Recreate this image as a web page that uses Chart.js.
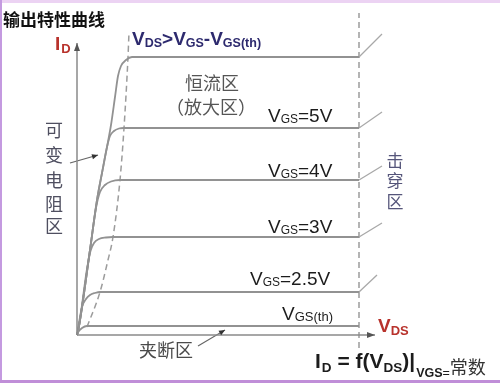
<!DOCTYPE html>
<html><head><meta charset="utf-8">
<script src="https://cdn.jsdelivr.net/npm/chart.js@4"></script>
<style>html,body{margin:0;padding:0;background:#fff}canvas{display:block}</style>
</head><body>
<canvas id="c" width="500" height="383"></canvas>
<script>
// ---- data (V_DS, I_D) in arbitrary units ----
const curveTop  = [[0,0],[0.15,0.6],[1.3,8.5],[2.0,13.5],[2.5,16.2],[3.0,18.8],[3.4,21.0],[3.8,23.8],[4.1,25.9],[4.4,26.9],[4.9,27.5],[5.5,27.8],[28.2,27.8]];
const curve5V   = [[0,0],[0.15,0.6],[1.3,8.5],[2.0,13.5],[2.5,16.2],[3.0,18.8],[3.3,19.9],[3.7,20.4],[4.2,20.65],[4.7,20.7],[28.2,20.7]];
const curve4V   = [[0,0],[0.15,0.6],[1.3,8.5],[1.9,12.7],[2.3,14.3],[2.8,15.0],[3.4,15.35],[4.3,15.5],[28.2,15.5]];
const curve3V   = [[0,0],[0.15,0.6],[1.0,6.6],[1.35,8.4],[1.7,9.2],[2.2,9.6],[2.9,9.75],[3.6,9.8],[28.2,9.8]];
const curve25V  = [[0,0],[0.25,1.5],[0.5,2.8],[0.9,3.6],[1.3,4.0],[1.8,4.2],[2.3,4.3],[28.2,4.3]];
const curveVth  = [[0,0],[0.15,0.35],[0.5,0.7],[1.0,0.9],[28.2,0.9]];
const breakdownTop = [[28.2,27.8],[30.5,30.1]];
const breakdown5V  = [[28.2,20.7],[30.5,22.3]];
const breakdown4V  = [[28.2,15.5],[30.5,16.9]];
const breakdown3V  = [[28.2,9.8],[30.5,11.2]];
const breakdown25V = [[28.2,4.3],[30.0,6.0]];
const pinchOffBoundary = [[1.0,0.8],[2.3,4.3],[3.1,7.5],[3.6,9.8],[4.3,15.5],[4.7,20.7],[5.1,27.8],[5.2,30.3]];
const breakdownBoundary = [[28.2,-1.3],[28.2,32.2]];
const yAxisLine = [[0,0],[0,29.2]];
const xAxisLine = [[0,0],[29.8,0]];
const pointerOhmic = [[-0.7,17.2],[2.1,18.0]];
const pointerCutoff = [[12.1,-1.1],[14.8,0.5]];

const SANS = '"Liberation Sans", Arial, sans-serif';
const CJK = '"Noto Sans CJK SC", "Noto Sans", sans-serif';
const toPts = a => a.map(p => ({x:p[0], y:p[1]}));

function ds(arr, o) {
  return Object.assign({data: toPts(arr), showLine: true, pointRadius: 0, borderColor: '#929292',
    borderWidth: 1.8, fill: false, clip: false, tension: 0}, o || {});
}
const curveOpt = {cubicInterpolationMode: 'monotone'};
const bdOpt = {borderColor: '#a8a8a8', borderWidth: 1.3};

const datasets = [
  ds(yAxisLine, {borderColor:'#8a8a8a', borderWidth:1.5}),
  ds(xAxisLine, {borderColor:'#8a8a8a', borderWidth:1.5}),
  ds(curveTop, curveOpt), ds(curve5V, curveOpt), ds(curve4V, curveOpt),
  ds(curve3V, curveOpt), ds(curve25V, curveOpt), ds(curveVth, curveOpt),
  ds(breakdownTop, bdOpt), ds(breakdown5V, bdOpt), ds(breakdown4V, bdOpt),
  ds(breakdown3V, bdOpt), ds(breakdown25V, bdOpt),
  ds(pinchOffBoundary, {borderColor:'#9c9c9c', borderWidth:1.5, borderDash:[6,4], cubicInterpolationMode:'monotone'}),
  ds(breakdownBoundary, {borderColor:'#9c9c9c', borderWidth:1.5, borderDash:[6,4]}),
  ds(pointerOhmic, {borderColor:'#666', borderWidth:1.2}),
  ds(pointerCutoff, {borderColor:'#666', borderWidth:1.2}),
];

const richLabels = [
  {x:19.1, y:21.3, parts:[{t:'V',s:19},{t:'GS',s:12,dy:1},{t:'=5V',s:19}]},
  {x:19.1, y:15.8, parts:[{t:'V',s:19},{t:'GS',s:12,dy:1},{t:'=4V',s:19}]},
  {x:19.1, y:10.2, parts:[{t:'V',s:19},{t:'GS',s:12,dy:1},{t:'=3V',s:19}]},
  {x:17.3, y:5.0,  parts:[{t:'V',s:19},{t:'GS',s:12,dy:1},{t:'=2.5V',s:19}]},
  {x:20.5, y:1.5,  parts:[{t:'V',s:19},{t:'GS(th)',s:13,dy:1}]},
  {x:5.5,  y:29.0, color:'#2d2a6e', parts:[{t:'V',s:19,b:1},{t:'DS',s:12.5,b:1,dy:2},{t:'>V',s:19,b:1},{t:'GS',s:12.5,b:1,dy:2},{t:'-V',s:19,b:1},{t:'GS(th)',s:12.5,b:1,dy:2}]},
  {x:-2.2, y:28.5, color:'#b8322c', parts:[{t:'I',s:19,b:1,sp:1},{t:'D',s:13,b:1,dy:3}]},
  {x:30.1, y:0.3,  color:'#b8322c', parts:[{t:'V',s:19,b:1},{t:'DS',s:13,b:1,dy:3}]},
  {x:23.8, y:-3.3, parts:[{t:'I',s:21,b:1,sp:1},{t:'D',s:13.5,b:1,dy:4},{t:' = f(V',s:21,b:1},{t:'DS',s:13.5,b:1,dy:4},{t:')|',s:21,b:1,sp:1},{t:'VGS',s:12.5,b:1,dy:9},{t:'=',s:12.5,dy:9},{t:'常数',s:18,f:CJK,dy:6,c:'#333'}]},
];
const cjkLabels = [
  {x:13.5, y:25.2, t:'恒流区', s:18, c:'#555'},
  {x:13.4, y:22.8, t:'（放大区）', s:18, c:'#555'},
  {x:-2.3, y:20.5, t:'可', s:18, c:'#4f4f60'},
  {x:-2.3, y:18.0, t:'变', s:18, c:'#4f4f60'},
  {x:-2.3, y:15.5, t:'电', s:18, c:'#4f4f60'},
  {x:-2.3, y:13.1, t:'阻', s:18, c:'#4f4f60'},
  {x:-2.3, y:10.9, t:'区', s:18, c:'#4f4f60'},
  {x:31.8, y:17.4, t:'击', s:17, c:'#55557a'},
  {x:31.8, y:15.4, t:'穿', s:17, c:'#55557a'},
  {x:31.8, y:13.3, t:'区', s:17, c:'#55557a'},
  {x:8.9,  y:-1.5, t:'夹断区', s:18, c:'#4a4a4a'},
];
const titleLabel = {x:-7.4, y:31.5, t:'输出特性曲线', s:17};

function arrowHead(ctx, from, to, len, half, color) {
  const a = Math.atan2(to.y - from.y, to.x - from.x);
  ctx.save(); ctx.translate(to.x, to.y); ctx.rotate(a);
  ctx.beginPath(); ctx.moveTo(0,0); ctx.lineTo(-len, -half); ctx.lineTo(-len, half); ctx.closePath();
  ctx.fillStyle = color; ctx.fill(); ctx.restore();
}

const deco = {
  id: 'deco',
  beforeDraw(chart) {
    const ctx = chart.ctx; const W = chart.width, H = chart.height;
    ctx.save();
    ctx.fillStyle = '#ffffff'; ctx.fillRect(0,0,W,H);
    ctx.fillStyle = '#ecd3f3'; ctx.fillRect(0,0,W,3);
    ctx.fillStyle = '#c49ae0'; ctx.fillRect(0,0,2,H);
    ctx.fillStyle = '#c08ed8'; ctx.fillRect(0,H-3,W,3);
    ctx.restore();
  },
  afterDraw(chart) {
    const ctx = chart.ctx, xs = chart.scales.x, ys = chart.scales.y;
    const P = p => ({x: xs.getPixelForValue(p[0]), y: ys.getPixelForValue(p[1])});
    arrowHead(ctx, P(yAxisLine[0]), P(yAxisLine[1]), 8, 3, '#555');
    arrowHead(ctx, P(xAxisLine[0]), P(xAxisLine[1]), 8, 3, '#555');
    arrowHead(ctx, P(pointerOhmic[0]), P(pointerOhmic[1]), 6, 2.6, '#333');
    arrowHead(ctx, P(pointerCutoff[0]), P(pointerCutoff[1]), 6, 2.6, '#333');
    ctx.save();
    ctx.textBaseline = 'alphabetic'; ctx.textAlign = 'left';
    for (const L of richLabels) {
      let cx = xs.getPixelForValue(L.x); const by = ys.getPixelForValue(L.y);
      for (const p of L.parts) {
        ctx.font = (p.b ? 'bold ' : '') + p.s + 'px ' + (p.f || SANS);
        ctx.fillStyle = p.c || L.color || '#1c1c1c';
        ctx.fillText(p.t, cx, by + (p.dy || 0));
        cx += ctx.measureText(p.t).width + (p.sp || 0);
      }
    }
    ctx.textBaseline = 'middle'; ctx.textAlign = 'center';
    for (const L of cjkLabels) {
      ctx.font = L.s + 'px ' + CJK; ctx.fillStyle = L.c;
      ctx.fillText(L.t, xs.getPixelForValue(L.x), ys.getPixelForValue(L.y));
    }
    ctx.textAlign = 'left';
    ctx.font = 'bold ' + titleLabel.s + 'px ' + CJK; ctx.fillStyle = '#111';
    ctx.fillText(titleLabel.t, xs.getPixelForValue(titleLabel.x), ys.getPixelForValue(titleLabel.y));
    ctx.restore();
  }
};

new Chart(document.getElementById('c'), {
  type: 'scatter',
  data: {datasets},
  options: {
    responsive: false, animation: false, devicePixelRatio: 1,
    layout: {padding: 0},
    plugins: {legend: {display: false}, tooltip: {enabled: false}},
    scales: {
      x: {type: 'linear', min: -7.7, max: 42.3, display: false},
      y: {type: 'linear', min: -4.8, max: 33.5, display: false}
    }
  },
  plugins: [deco]
});
</script>
</body></html>
